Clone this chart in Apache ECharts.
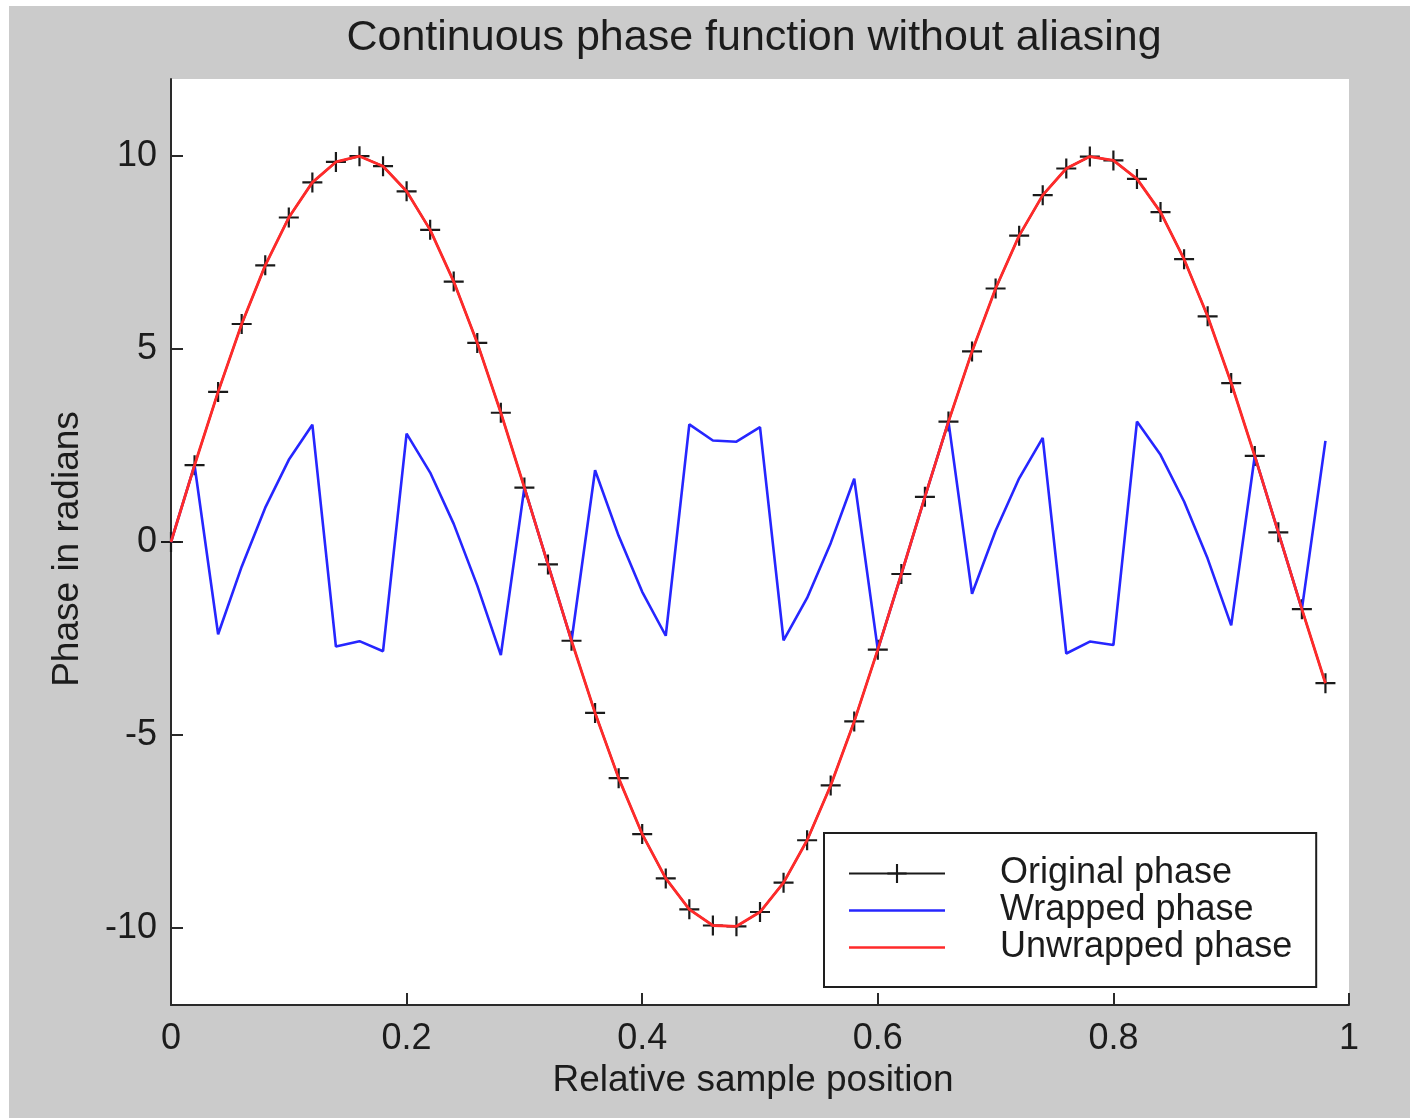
<!DOCTYPE html>
<html>
<head>
<meta charset="utf-8">
<script src="https://cdn.jsdelivr.net/npm/echarts@6/dist/echarts.min.js"></script>
<style>
  html, body { margin: 0; padding: 0; background: #ffffff; width: 1410px; height: 1118px; overflow: hidden; }
  #chart { position: absolute; left: 9px; top: 6px; width: 1401px; height: 1112px; }
</style>
</head>
<body>
<div id="chart"></div>
<script>
// Relative sample positions
const samplePos = [0, 0.02, 0.04, 0.06, 0.08, 0.10, 0.12, 0.14, 0.16, 0.18,
  0.20, 0.22, 0.24, 0.26, 0.28, 0.30, 0.32, 0.34, 0.36, 0.38,
  0.40, 0.42, 0.44, 0.46, 0.48, 0.50, 0.52, 0.54, 0.56, 0.58,
  0.60, 0.62, 0.64, 0.66, 0.68, 0.70, 0.72, 0.74, 0.76, 0.78,
  0.80, 0.82, 0.84, 0.86, 0.88, 0.90, 0.92, 0.94, 0.96, 0.98];

// Original phase (black, + markers)
const originalPhase = [0, 1.99, 3.89, 5.65, 7.17, 8.41, 9.32, 9.85, 10.0, 9.74,
  9.09, 8.09, 6.75, 5.16, 3.35, 1.41, -0.58, -2.56, -4.43, -6.12,
  -7.57, -8.72, -9.52, -9.94, -9.96, -9.59, -8.83, -7.73, -6.31, -4.65,
  -2.79, -0.83, 1.17, 3.12, 4.94, 6.57, 7.94, 8.99, 9.68, 9.99,
  9.89, 9.41, 8.55, 7.33, 5.85, 4.12, 2.23, 0.25, -1.74, -3.66];

// Wrapped phase (blue)
const wrappedPhase = [0, 1.99, -2.39, -0.64, 0.89, 2.13, 3.04, -2.71, -2.57, -2.83,
  2.81, 1.80, 0.47, -1.13, -2.93, 1.41, -0.58, -2.56, 1.86, 0.16,
  -1.29, -2.43, 3.05, 2.63, 2.60, 2.98, -2.55, -1.45, -0.03, 1.64,
  -2.79, -0.83, 1.17, 3.12, -1.34, 0.29, 1.65, 2.70, -2.89, -2.58,
  -2.67, 3.12, 2.26, 1.05, -0.43, -2.16, 2.23, 0.25, -1.74, 2.62];

// Unwrapped phase (red)
const unwrappedPhase = [0, 1.99, 3.89, 5.65, 7.17, 8.41, 9.32, 9.85, 10.0, 9.74,
  9.09, 8.09, 6.75, 5.16, 3.35, 1.41, -0.58, -2.56, -4.43, -6.12,
  -7.57, -8.72, -9.52, -9.94, -9.96, -9.59, -8.83, -7.73, -6.31, -4.65,
  -2.79, -0.83, 1.17, 3.12, 4.94, 6.57, 7.94, 8.99, 9.68, 9.99,
  9.89, 9.41, 8.55, 7.33, 5.85, 4.12, 2.23, 0.25, -1.74, -3.66];

const xTicks = [0, 0.2, 0.4, 0.6, 0.8, 1];
const yTicks = [-10, -5, 0, 5, 10];

const seriesNames = ['Original phase', 'Wrapped phase', 'Unwrapped phase'];
const titleText = 'Continuous phase function without aliasing';
const xName = 'Relative sample position';
const yName = 'Phase in radians';

const FONT = '"Liberation Sans", Arial, Helvetica, sans-serif';
const TXT = '#1c1c1c';
const AX = '#2a2a2a';

function pairs(xs, ys) { return xs.map((x, i) => [x, ys[i]]); }

const plusPath = 'path://M8.9,0H11.1V8.9H20V11.1H11.1V20H8.9V11.1H0V8.9H8.9Z';
const linePath = 'path://M0,0H96V2.6H0Z';

const chart = echarts.init(document.getElementById('chart'), null, { renderer: 'canvas' });

chart.setOption({
  backgroundColor: '#cbcbcb',
  animation: false,
  title: {
    text: titleText,
    left: 740,
    top: 6,
    textAlign: 'center',
    textStyle: { fontFamily: FONT, fontSize: 43, fontWeight: 'normal', color: TXT }
  },
  grid: {
    left: 162, right: 61, top: 73, bottom: 113,
    show: true, backgroundColor: '#ffffff', borderWidth: 0,
    outerBoundsMode: 'none'
  },
  xAxis: {
    type: 'value', min: 0, max: 1,
    name: xName, nameLocation: 'middle', nameGap: 57, nameMoveOverlap: false,
    nameTextStyle: { fontFamily: FONT, fontSize: 37, color: TXT, padding: [0, 14, 0, 0] },
    axisLine: { show: true, onZero: false, lineStyle: { color: AX, width: 2 } },
    axisTick: { show: true, inside: true, length: 12, customValues: xTicks, lineStyle: { color: AX, width: 2 } },
    axisLabel: { customValues: xTicks, margin: 16, fontFamily: FONT, fontSize: 36, color: TXT,
      formatter: v => String(v) },
    splitLine: { show: false }
  },
  yAxis: {
    type: 'value', min: -12, max: 12,
    name: yName, nameLocation: 'middle', nameGap: 85, nameMoveOverlap: false,
    nameTextStyle: { fontFamily: FONT, fontSize: 37, color: TXT, padding: [0, 14, 0, 0] },
    axisLine: { show: true, onZero: false, lineStyle: { color: AX, width: 2 } },
    axisTick: { show: true, inside: true, length: 12, customValues: yTicks, lineStyle: { color: AX, width: 2 } },
    axisLabel: { customValues: yTicks, margin: 14, fontFamily: FONT, fontSize: 36, color: TXT,
      formatter: v => String(v) },
    splitLine: { show: false }
  },
  legend: {
    orient: 'vertical',
    left: 815, top: 827,
    padding: [22, 24, 21, 24],
    itemGap: 0, itemWidth: 96, itemHeight: 24,
    backgroundColor: '#ffffff', borderColor: '#1e1e1e', borderWidth: 2, borderRadius: 0,
    selectedMode: false,
    textStyle: { fontFamily: FONT, fontSize: 36, color: TXT, lineHeight: 37, padding: [0, 0, 0, 50] },
    data: [
      { name: seriesNames[0] },
      { name: seriesNames[1], icon: linePath },
      { name: seriesNames[2], icon: linePath }
    ]
  },
  series: [
    {
      name: seriesNames[0], type: 'line', data: pairs(samplePos, originalPhase),
      symbol: plusPath, symbolSize: 20, showSymbol: true, showAllSymbol: true,
      itemStyle: { color: '#1a1a1a' },
      lineStyle: { color: '#1a1a1a', width: 2 },
      z: 2, silent: true, clip: false
    },
    {
      name: seriesNames[1], type: 'line', data: pairs(samplePos, wrappedPhase),
      symbol: 'none', itemStyle: { color: '#2626ff' },
      lineStyle: { color: '#2626ff', width: 2.6 },
      z: 3, silent: true
    },
    {
      name: seriesNames[2], type: 'line', data: pairs(samplePos, unwrappedPhase),
      symbol: 'none', itemStyle: { color: '#ff2a2a' },
      lineStyle: { color: '#ff2a2a', width: 2.8 },
      z: 4, silent: true
    }
  ]
});
</script>
</body>
</html>
